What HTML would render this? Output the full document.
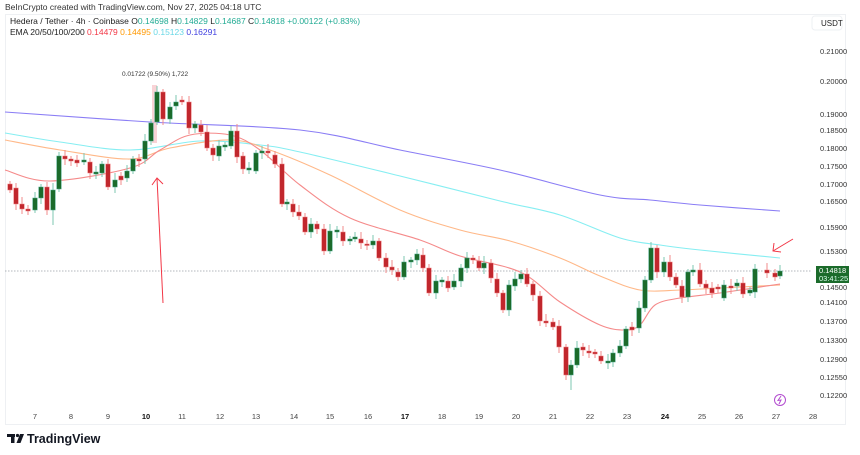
<!DOCTYPE html>
<html><head><meta charset="utf-8">
<style>
html,body{margin:0;padding:0;background:#fff;width:860px;height:455px;overflow:hidden;font-family:"Liberation Sans",sans-serif}
svg{position:absolute;left:0;top:0}
</style></head>
<body>
<svg id="s" width="860" height="455" xmlns="http://www.w3.org/2000/svg">
<rect x="5.5" y="14.5" width="840" height="410" fill="#fff" stroke="#eef0f3"/>
<text x="5" y="10" font-size="8.5" fill="#333">BeInCrypto created with TradingView.com, Nov 27, 2025 04:18 UTC</text>
<text x="10" y="24" font-size="8.5" fill="#222">Hedera / Tether · 4h · Coinbase  O<tspan fill="#22ab94">0.14698</tspan> H<tspan fill="#22ab94">0.14829</tspan> L<tspan fill="#22ab94">0.14687</tspan> C<tspan fill="#22ab94">0.14818 +0.00122 (+0.83%)</tspan></text>
<text x="10" y="35" font-size="8.5" fill="#222">EMA 20/50/100/200 <tspan fill="#f23645">0.14479</tspan> <tspan fill="#ff9800">0.14495</tspan> <tspan fill="#00bcd4" opacity=".6">0.15123</tspan> <tspan fill="#3f3fe0">0.16291</tspan></text>
<rect x="812" y="16" width="30" height="14" rx="3" fill="#fff" stroke="#eef0f3"/>
<text x="821" y="26" font-size="8" fill="#222">USDT</text>
<line x1="5" y1="271" x2="812" y2="271" stroke="#9aa0a6" stroke-dasharray="1.5,1.5" stroke-width="0.8"/>
<g id="ema"></g>
<rect x="152" y="85" width="5" height="58" fill="#f8c8cc" opacity=".8"/>
<g id="c"></g>
<text x="122" y="76" font-size="6.5" fill="#333">0.01722 (9.50%) 1,722</text>
<g stroke="#f23645" stroke-width="1" fill="none">
<line x1="163" y1="303" x2="157" y2="178"/><polyline points="152,185 157,178 163,184"/>
<line x1="793" y1="239" x2="773" y2="251"/><polyline points="774,243 773,251 781,252"/>
</g>
<g id="ax" font-size="7.5" fill="#333"></g>
<rect x="816" y="266" width="33" height="17" fill="#1b6b2b"/>
<text x="819" y="273" font-size="7.5" fill="#fff">0.14818</text>
<text x="819" y="281" font-size="7.5" fill="#dfe">03:41:25</text>
<circle cx="780" cy="400" r="5.5" fill="none" stroke="#b24ccf" stroke-width="1"/>
<path d="M781,396 L778,400.5 L781,400 L779,404" stroke="#b24ccf" fill="none" stroke-width="1"/>
<g id="dx" font-size="7.5" fill="#444" text-anchor="middle"></g>
<g fill="#131722">
<rect x="7" y="434" width="8" height="3"/><rect x="11" y="434" width="3.5" height="9"/>
<circle cx="17.5" cy="435.5" r="1.6"/>
<polygon points="20,434 24,434 20.5,443 16.5,443"/>
</g>
<text x="27" y="443" font-size="12.5" font-weight="bold" fill="#131722">TradingView</text>
</svg>
<script>
const NS="http://www.w3.org/2000/svg";
function el(p,t,a,txt){const e=document.createElementNS(NS,t);for(const k in a)e.setAttribute(k,a[k]);if(txt!=null)e.textContent=txt;p.appendChild(e);return e;}
const ax=document.getElementById('ax');
[["0.21000",51],["0.20000",81],["0.19000",114],["0.18500",130],["0.18000",148],["0.17500",166],["0.17000",184],["0.16500",201],["0.15900",227],["0.15300",251],["0.14500",287],["0.14100",302],["0.13700",321],["0.13300",340],["0.12900",359],["0.12550",377],["0.12200",395]].forEach(a=>el(ax,'text',{x:820,y:a[1]+3},a[0]));
const dx=document.getElementById('dx');
[[7,35],[8,71],[9,108],[10,146],[11,182],[12,220],[13,256],[14,294],[15,330],[16,368],[17,405],[18,442],[19,479],[20,516],[21,553],[22,590],[23,627],[24,665],[25,702],[26,739],[27,776],[28,813]].forEach(a=>{el(dx,'text',{x:a[1],y:419,'font-weight':[10,17,24].includes(a[0])?'bold':'normal',fill:[10,17,24].includes(a[0])?'#111':'#444'},a[0]);});
const ema=document.getElementById('ema');
function line(s,col){const p=s.split(' ').map(q=>q.split(',').map(Number));
let d='M'+p[0][0]+','+p[0][1];
for(let i=0;i<p.length-1;i++){const p0=p[i-1]||p[i],p1=p[i],p2=p[i+1],p3=p[i+2]||p2;
d+=` C${p1[0]+(p2[0]-p0[0])/6},${p1[1]+(p2[1]-p0[1])/6} ${p2[0]-(p3[0]-p1[0])/6},${p2[1]-(p3[1]-p1[1])/6} ${p2[0]},${p2[1]}`;}
el(ema,'path',{d:d,fill:'none',stroke:col,'stroke-width':1.1});}
line("5,112 150,122 300,130 400,150 500,170 600,195 650,200 700,205 780,211","#8a7df5");
line("5,133 60,142 130,150 200,141 260,145 300,152 400,176 500,201 560,215 620,238 660,245 700,250 780,258","#86eef2");
line("5,140 60,150 130,159 170,148 230,140 270,150 330,175 400,210 460,230 510,241 560,258 600,276 640,290 680,290 720,288 780,285","#ffb888");
line("5,170 50,181 130,168 160,150 190,135 230,135 260,150 300,185 350,218 420,240 460,256 520,272 560,302 600,325 625,330 640,325 655,305 680,298 720,293 780,284","#f58a8a");
const C=[[10,184,190,'r'],[16,188,204,'r'],[22,204,209,'r'],[28,209,211,'r'],[35,198,210,'g'],[41,187,198,'g'],[47,187,210,'r'],[53,190,210,'g',225],[59,156,189,'g'],[65,156,159,'r'],[71,159,161,'r'],[77,160,163,'r'],[84,160,162,'g'],[90,162,173,'r'],[96,172,174,'g'],[102,164,173,'g'],[108,164,187,'r'],[115,180,187,'g'],[121,176,180,'r'],[127,171,178,'g'],[133,159,171,'g'],[139,159,161,'r'],[145,141,159,'g'],[151,123,141,'g'],[157,92,122,'g'],[163,92,119,'r'],[170,107,119,'g'],[176,102,106,'g'],[182,100,102,'r'],[189,102,128,'r'],[195,124,128,'g'],[201,125,132,'r'],[207,132,148,'r'],[213,148,155,'r'],[219,146,156,'g'],[225,145,147,'g'],[231,131,146,'g'],[237,131,157,'r'],[243,156,169,'r'],[249,168,170,'g'],[256,153,171,'g'],[262,151,153,'g'],[268,151,153,'r'],[275,155,164,'r'],[282,164,204,'r'],[287,202,204,'g'],[293,204,212,'r'],[299,212,216,'r'],[305,217,232,'r'],[311,224,232,'g'],[317,224,229,'r'],[324,229,251,'r'],[330,231,251,'g'],[337,230,232,'g'],[343,232,241,'r'],[350,239,241,'g'],[355,237,239,'g'],[361,239,243,'r'],[367,244,245,'r'],[373,241,245,'g'],[379,241,258,'r'],[386,258,267,'r'],[392,267,270,'r'],[398,272,277,'r'],[404,262,277,'g'],[411,260,262,'g'],[417,254,260,'g'],[423,255,268,'r'],[429,268,293,'r'],[436,281,293,'g'],[442,280,282,'g'],[448,281,288,'r'],[454,281,287,'g'],[461,268,281,'g'],[467,258,268,'g'],[473,258,260,'r'],[479,261,268,'r'],[484,263,268,'g'],[491,263,278,'r'],[497,279,293,'r'],[503,293,310,'r'],[509,285,310,'g'],[515,279,286,'g'],[521,274,279,'g'],[527,274,284,'r'],[533,284,295,'r'],[540,296,321,'r'],[546,321,323,'r'],[553,322,327,'r'],[559,326,347,'r'],[566,347,375,'r'],[571,365,375,'g',390],[577,348,365,'g'],[583,347,350,'r'],[589,351,353,'r'],[595,352,354,'r'],[601,356,361,'r'],[608,361,363,'g'],[613,353,362,'g'],[620,346,353,'g'],[626,329,346,'g'],[632,327,330,'r'],[639,308,328,'g'],[645,280,308,'g'],[651,248,280,'g'],[657,248,272,'r'],[664,262,272,'g'],[670,262,277,'r'],[676,277,285,'r'],[682,286,297,'r'],[688,272,297,'g'],[693,270,272,'g'],[700,270,284,'r'],[706,284,288,'r'],[712,288,293,'r'],[718,287,289,'r'],[724,285,298,'g'],[731,286,288,'r'],[737,283,286,'g'],[743,283,294,'r'],[750,290,293,'g'],[755,269,292,'g'],[767,270,273,'r'],[775,273,277,'r'],[780,271,276,'g']];
const cg=document.getElementById('c');
C.forEach((c,i)=>{const [x,t,b,k,lo]=c;const col=k=='g'?'#1b6b2b':'#c1272d';const wc=k=='g'?'#7cc7b0':'#f28b8b';
const hi=t-3-(i*7%5),low=lo||b+3+(i*3%4);
el(cg,'line',{x1:x,x2:x,y1:hi,y2:low,stroke:wc,'stroke-width':1});
el(cg,'rect',{x:x-2.3,y:t,width:4.6,height:Math.max(1.5,b-t),fill:col,stroke:k=='g'?'#4aa88a':'#f08080','stroke-width':0.5});});
</script>
</body></html>
